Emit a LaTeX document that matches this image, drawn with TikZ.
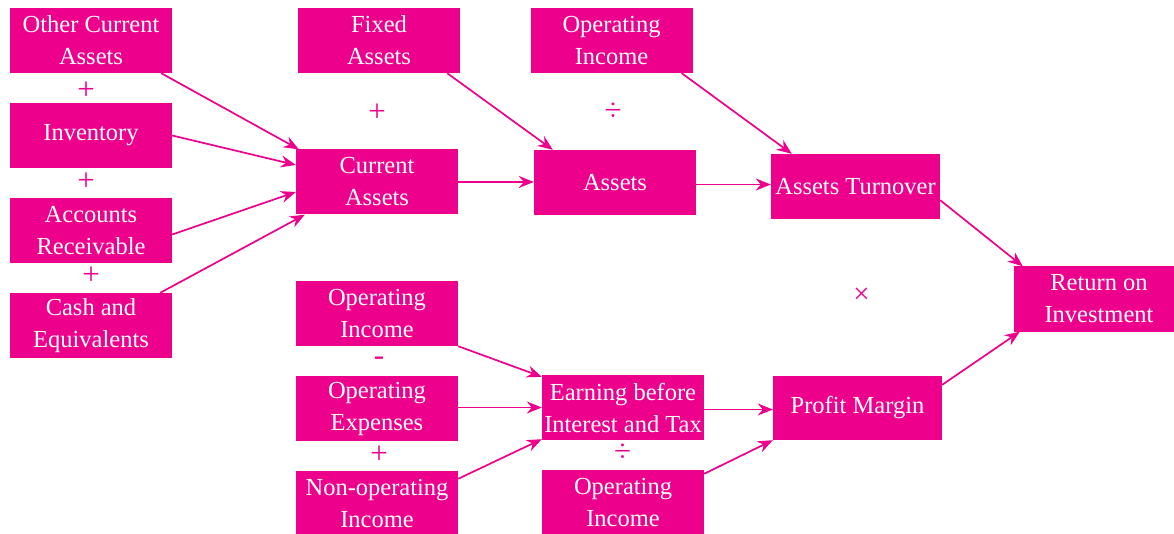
\documentclass[tikz,border=0pt]{standalone}
\usepackage{fontspec}
\setmainfont{Liberation Serif}
\usetikzlibrary{arrows.meta,positioning}
\definecolor{roipink}{HTML}{EC008C}

\begin{document}
\begin{tikzpicture}[x=1pt,y=1pt,>={Stealth[length=15pt,width=12pt,inset=5pt]},node distance=95pt,
    box/.style={fill=roipink,text=white,minimum width=162pt,minimum height=65pt,inner sep=2pt,align=center,font=\fontsize{24.5}{32}\selectfont},
    op/.style={text=roipink,inner sep=0pt,font=\fontsize{31}{31}\selectfont},
    link/.style={->,draw=roipink,line width=1.7pt}]
    \useasboundingbox (0,0) rectangle (1174,-534);
    \node[box]  (oca)                 at (91,-40.5)   {Other Current\\Assets};
    \node[box]  (inv)    [below of = oca]             {Inventory};
    \node[box]  (ar)     [below of = inv]             {Accounts\\Receivable};
    \node[box]  (cash)   [below of = ar]              {Cash and\\Equivalents};
    \node[box]  (fa)                  at (379,-40.5)  {Fixed\\Assets};
    \node[box]  (ca)                  at (377,-182)   {Current\\Assets};
    \node[box]  (oi1)                 at (611.5,-40.5) {Operating\\Income};
    \node[box]  (assets)              at (615,-182.5) {Assets};
    \node[box,minimum width=169pt] (at) at (855.5,-186.5) {Assets Turnover};
    \node[box,minimum width=170pt] (roi) at (1099,-299) {Return on\\Investment};
    \node[box]  (oi2)                 at (377,-313.5) {Operating\\Income};
    \node[box]  (oe)     [below of = oi2]             {Operating\\Expenses};
    \node[box]  (noi)    [below of = oe]              {Non-operating\\Income};
    \node[box]  (ebit)                at (623,-407.5) {Earning before\\Interest and Tax};
    \node[box]  (oi3)    [below of = ebit]            {Operating\\Income};
    \node[box,minimum width=169pt,minimum height=64pt] (pm) at (857.5,-408) {Profit Margin};

    \node[op] (s1) at (86,-90.5)   {+};
    \node[op] (s2) at (86,-181.5)  {+};
    \node[op] (s3) at (91,-276)    {+};
    \node[op] (s4) at (377,-112.5) {+};
    \node[op] (s5) at (613,-112)   {÷};
    \node[op,font=\fontsize{29}{29}\selectfont] (s6) at (861.5,-295.5) {×};
    \node[op] (s7) at (379,-361)   {-};
    \node[op] (s8) at (379,-455)   {+};
    \node[op] (s9) at (622.5,-453) {÷};

    \draw[link] ([xshift=-11pt]oca.south east) to ([xshift=3pt]ca.north west);
    \draw[link] (inv.east) to ([yshift=17pt]ca.west);
    \draw[link] ([yshift=-4pt]ar.east) to ([yshift=-10pt]ca.west);
    \draw[link] ([xshift=-12pt]cash.north east) to ([xshift=9pt]ca.south west);
    \draw[link] (ca.east) to (ca.east -| assets.west);
    \draw[link] ([xshift=-13pt]fa.south east) to ([xshift=19pt]assets.north west);
    \draw[link] ([xshift=-11pt]oi1.south east) to ([xshift=21pt]at.north west);
    \draw[link] ([yshift=-2pt]assets.east) to ([yshift=2pt]at.west);
    \draw[link] ([yshift=19pt]at.south east) to ([xshift=9pt]roi.north west);
    \draw[link] ([yshift=-9pt]pm.north east) to ([xshift=6pt]roi.south west);
    \draw[link] (oi2.south east) to ([yshift=-2pt]ebit.north west);
    \draw[link] ([yshift=1pt]oe.east) to ([yshift=1pt]oe.east -| ebit.west);
    \draw[link] ([yshift=-8pt]noi.north east) to ([yshift=1pt]ebit.south west);
    \draw[link] ([yshift=-2pt]ebit.east) to ([yshift=-2pt]ebit.east -| pm.west);
    \draw[link] ([yshift=-4pt]oi3.north east) to (pm.south west);
\end{tikzpicture}
\end{document}
